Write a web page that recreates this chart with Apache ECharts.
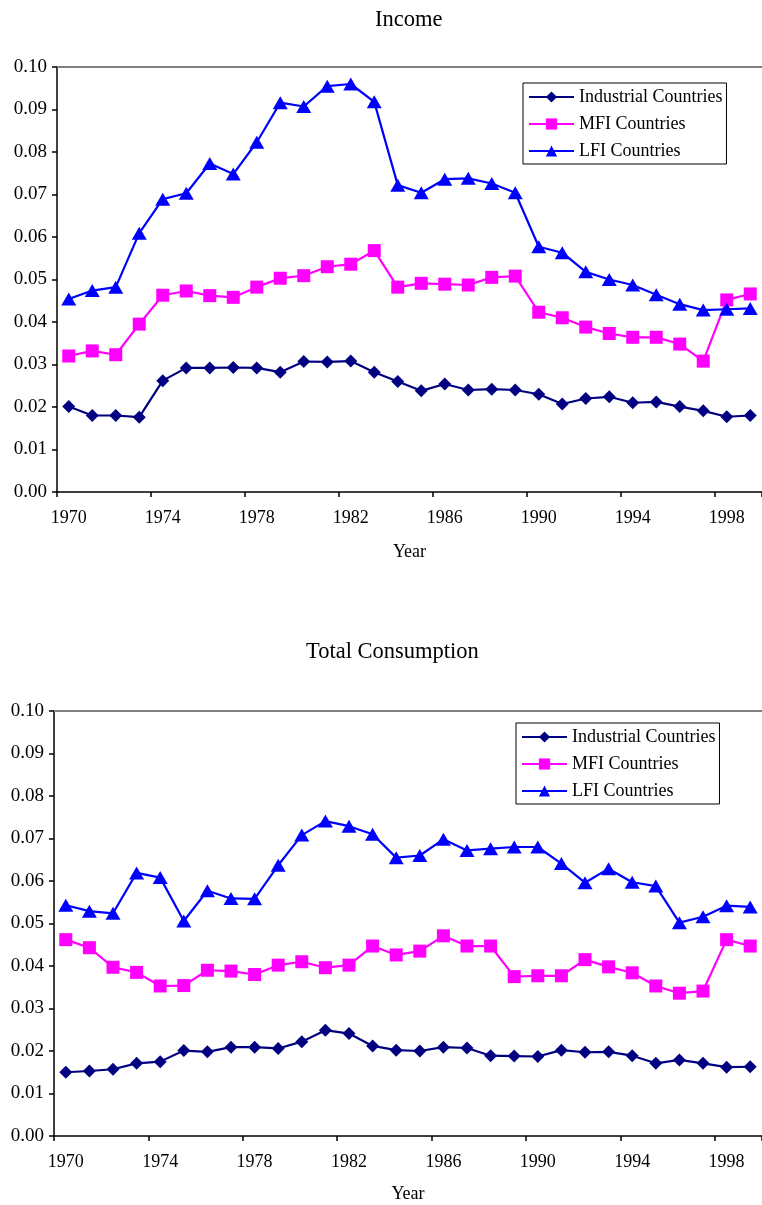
<!DOCTYPE html>
<html><head><meta charset="utf-8">
<script src="https://cdn.jsdelivr.net/npm/echarts@6/dist/echarts.min.js"></script>
<style>html,body{margin:0;padding:0;background:#fff}#c{width:762px;height:1205px}</style>
</head><body><div id="c"></div>
<script>
const years = [1970,1971,1972,1973,1974,1975,1976,1977,1978,1979,1980,1981,1982,1983,1984,1985,1986,1987,1988,1989,1990,1991,1992,1993,1994,1995,1996,1997,1998,1999];
const seriesNames = ['Industrial Countries','MFI Countries','LFI Countries'];
const panelTitles = ['Income','Total Consumption'];
const xAxisName = 'Year';
const incomeIndustrial = [0.0201,0.0180,0.0180,0.0176,0.0262,0.0292,0.0292,0.0293,0.0292,0.0282,0.0307,0.0306,0.0308,0.0282,0.0260,0.0238,0.0254,0.0240,0.0242,0.0240,0.0230,0.0207,0.0220,0.0224,0.0210,0.0212,0.0201,0.0191,0.0177,0.0180];
const incomeMFI = [0.0320,0.0332,0.0323,0.0395,0.0463,0.0473,0.0462,0.0458,0.0482,0.0503,0.0509,0.0530,0.0536,0.0568,0.0482,0.0491,0.0489,0.0487,0.0505,0.0508,0.0423,0.0410,0.0388,0.0373,0.0364,0.0364,0.0348,0.0308,0.0452,0.0466];
const incomeLFI = [0.0454,0.0474,0.0482,0.0609,0.0689,0.0703,0.0773,0.0748,0.0823,0.0916,0.0907,0.0955,0.0960,0.0918,0.0722,0.0704,0.0736,0.0738,0.0726,0.0704,0.0577,0.0563,0.0518,0.0500,0.0487,0.0464,0.0442,0.0428,0.0430,0.0432];
const consIndustrial = [0.0150,0.0153,0.0157,0.0171,0.0175,0.0201,0.0198,0.0209,0.0209,0.0206,0.0222,0.0249,0.0241,0.0212,0.0202,0.0200,0.0209,0.0207,0.0189,0.0188,0.0187,0.0202,0.0197,0.0198,0.0189,0.0171,0.0179,0.0171,0.0162,0.0163];
const consMFI = [0.0462,0.0443,0.0397,0.0385,0.0353,0.0354,0.0390,0.0388,0.0380,0.0402,0.0410,0.0396,0.0402,0.0447,0.0426,0.0435,0.0471,0.0447,0.0447,0.0375,0.0377,0.0377,0.0415,0.0398,0.0384,0.0353,0.0336,0.0341,0.0462,0.0447];
const consLFI = [0.0543,0.0529,0.0524,0.0619,0.0608,0.0506,0.0577,0.0559,0.0558,0.0637,0.0708,0.0741,0.0729,0.0710,0.0655,0.0660,0.0698,0.0672,0.0676,0.0680,0.0680,0.0641,0.0596,0.0629,0.0597,0.0588,0.0502,0.0516,0.0542,0.0539];

const FONT = "'Liberation Serif','Times New Roman',serif";
const colors = ['#000080','#FF00FF','#0000FF'];
const symbols = ['diamond','rect','triangle'];
const symbolSizes = [[13,13],[13,13],[15,13]];

const grids = [
  {left: 57, top: 67, width: 713, height: 425},
  {left: 54, top: 711, width: 714, height: 425}
];
const titlePos = [{left: 375, top: 9},{left: 306, top: 641}];
const legendPos = [{left: 523, top: 83},{left: 516, top: 723}];
const nameGaps = [51, 49];
const panelData = [[incomeIndustrial, incomeMFI, incomeLFI],[consIndustrial, consMFI, consLFI]];

const xAxes = [], yAxes = [], series = [], titles = [], legends = [];
grids.forEach((g, i) => {
  xAxes.push({
    gridIndex: i, type: 'category', data: years, boundaryGap: true, position: 'bottom',
    axisLine: {show: true, onZero: false, lineStyle: {color: '#000', width: 1.5}},
    axisTick: {show: true, interval: 3, alignWithLabel: false, length: 5, lineStyle: {color: '#000', width: 1.5}},
    axisLabel: {interval: 3, fontFamily: FONT, fontSize: 18, color: '#000', margin: 17},
    splitLine: {show: false},
    name: xAxisName, nameLocation: 'middle', nameGap: nameGaps[i],
    nameTextStyle: {fontFamily: FONT, fontSize: 18, color: '#000'}
  });
  xAxes.push({
    gridIndex: i, type: 'category', data: years, boundaryGap: true, position: 'top',
    axisLine: {show: true, onZero: false, lineStyle: {color: '#808080', width: 2}},
    axisTick: {show: false}, axisLabel: {show: false}, splitLine: {show: false}
  });
  yAxes.push({
    gridIndex: i, type: 'value', min: 0, max: 0.1, interval: 0.01,
    axisLine: {show: true, onZero: false, lineStyle: {color: '#000', width: 1.5}},
    axisTick: {show: true, length: 5, lineStyle: {color: '#000', width: 1.5}},
    axisLabel: {fontFamily: FONT, fontSize: 19, color: '#000', margin: 10,
      formatter: v => v.toFixed(2)},
    splitLine: {show: false}
  });
  titles.push({text: panelTitles[i], left: titlePos[i].left, top: titlePos[i].top, padding: 0,
    textStyle: {fontFamily: FONT, fontSize: 22.5, fontWeight: 'normal', color: '#000'}});
  legends.push({
    data: seriesNames, orient: 'vertical', left: legendPos[i].left, top: legendPos[i].top,
    itemWidth: 45, itemHeight: 14, itemGap: 9, padding: [5, 4, 4, 5],
    borderColor: '#000', borderWidth: 1, backgroundColor: '#fff', selectedMode: false,
    textStyle: {fontFamily: FONT, fontSize: 18, color: '#000'}
  });
  panelData[i].forEach((vals, k) => {
    series.push({
      name: seriesNames[k], type: 'line', xAxisIndex: i * 2, yAxisIndex: i,
      data: vals, symbol: symbols[k], symbolSize: symbolSizes[k], showAllSymbol: true,
      lineStyle: {color: colors[k], width: 2.2}, itemStyle: {color: colors[k], borderWidth: 0},
      emphasis: {disabled: true}
    });
  });
});

const chart = echarts.init(document.getElementById('c'), null, {renderer: 'canvas'});
chart.setOption({
  animation: false,
  backgroundColor: '#fff',
  title: titles, legend: legends, grid: grids,
  xAxis: xAxes, yAxis: yAxes, series: series
});
</script></body></html>
